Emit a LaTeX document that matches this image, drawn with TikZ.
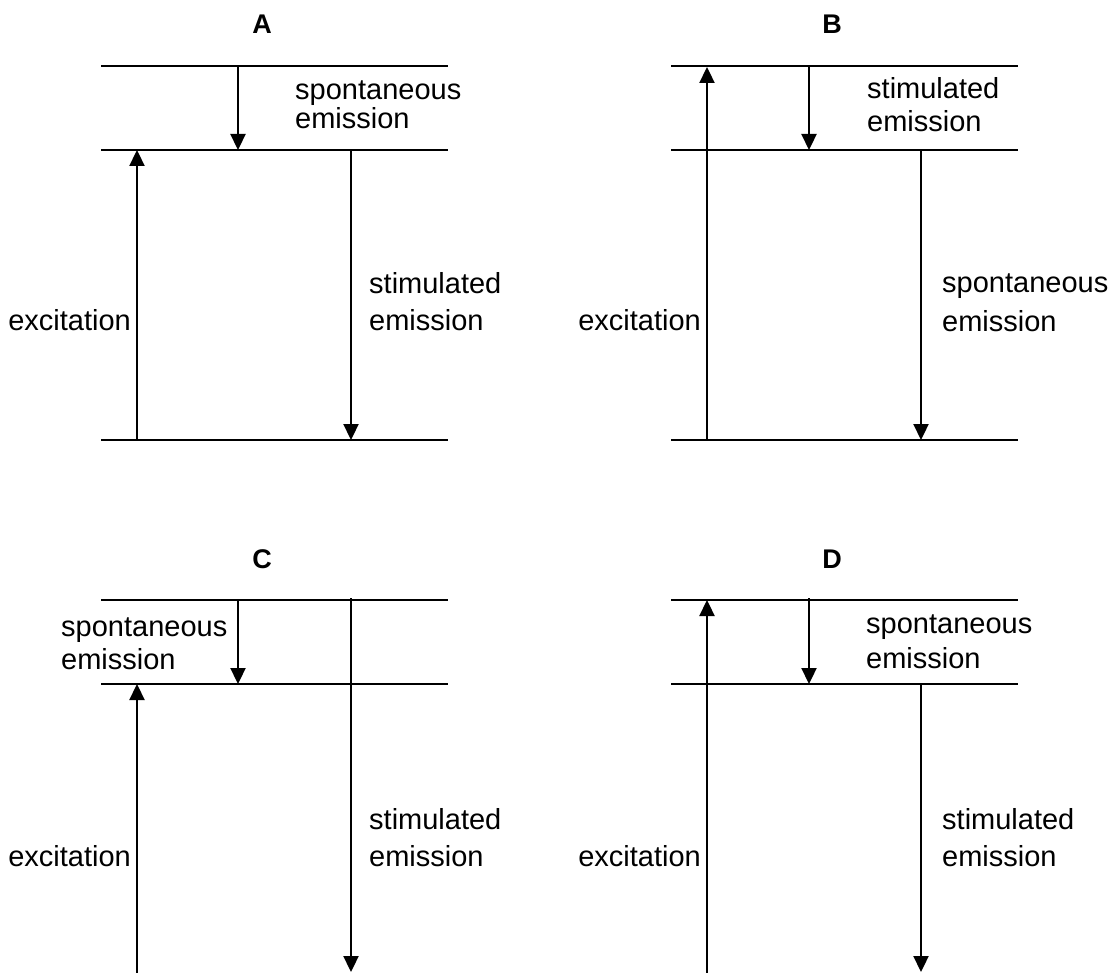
\documentclass[tikz,border=0pt]{standalone}
\usepackage{fontspec}
\setmainfont{Liberation Sans}
\usetikzlibrary{arrows.meta}
\begin{document}
\begin{tikzpicture}[x=1pt,y=-1pt,
  level/.style={line width=2.1pt},
  trans/.style={line width=2.3pt,-{Triangle[width=15pt,length=16pt]}},
  lblw/.style={inner sep=0pt,anchor=base west,font=\fontsize{29}{29}\selectfont},
  lble/.style={inner sep=0pt,anchor=base east,font=\fontsize{29}{29}\selectfont},
  ttl/.style={inner sep=0pt,anchor=base,font=\fontsize{27}{27}\selectfont\bfseries}]
\useasboundingbox (0,0) rectangle (1116,973);

% ---------------- Panel A ----------------
\node[ttl] (tA) at (262,34) {A};
\coordinate (A1l) at (101,66);  \coordinate (A1r) at (448,66);
\coordinate (A2l) at (101,150); \coordinate (A2r) at (448,150);
\coordinate (A3l) at (101,440); \coordinate (A3r) at (448,440);
\draw[level] (A1l) -- (A1r);
\draw[level] (A2l) -- (A2r);
\draw[level] (A3l) -- (A3r);
\coordinate (Aex0) at (137,440); \coordinate (Aex1) at (137,150);
\coordinate (Asp0) at (238,66);  \coordinate (Asp1) at (238,150);
\coordinate (Ast0) at (351,150); \coordinate (Ast1) at (351,440);
\draw[trans] (Aex0) -- (Aex1);
\draw[trans] (Asp0) -- (Asp1);
\draw[trans] (Ast0) -- (Ast1);
\node[lblw] (Asp1t) at (295,100) {spontaneous};
\node[lblw] (Asp2t) at (295,129) {emission};
\node[lblw] (Ast1t) at (369,294) {stimulated};
\node[lblw] (Ast2t) at (369,331) {emission};
\node[lble] (Aext) at (131,331) {excitation};

% ---------------- Panel B ----------------
\node[ttl] (tB) at (832,34) {B};
\coordinate (B1l) at (671,66);  \coordinate (B1r) at (1018,66);
\coordinate (B2l) at (671,150); \coordinate (B2r) at (1018,150);
\coordinate (B3l) at (671,440); \coordinate (B3r) at (1018,440);
\draw[level] (B1l) -- (B1r);
\draw[level] (B2l) -- (B2r);
\draw[level] (B3l) -- (B3r);
\coordinate (Bex0) at (707,440); \coordinate (Bex1) at (707,67);
\coordinate (Bst0) at (809,66);  \coordinate (Bst1) at (809,150);
\coordinate (Bsp0) at (921,150); \coordinate (Bsp1) at (921,440);
\draw[trans] (Bex0) -- (Bex1);
\draw[trans] (Bst0) -- (Bst1);
\draw[trans] (Bsp0) -- (Bsp1);
\node[lblw] (Bst1t) at (867,99) {stimulated};
\node[lblw] (Bst2t) at (867,132) {emission};
\node[lblw] (Bsp1t) at (942,293) {spontaneous};
\node[lblw] (Bsp2t) at (942,332) {emission};
\node[lble] (Bext) at (701,331) {excitation};

% ---------------- Panel C ----------------
\node[ttl] (tC) at (262,568) {C};
\coordinate (C1l) at (101,600); \coordinate (C1r) at (448,600);
\coordinate (C2l) at (101,684); \coordinate (C2r) at (448,684);
\draw[level] (C1l) -- (C1r);
\draw[level] (C2l) -- (C2r);
\coordinate (Cex0) at (137,976); \coordinate (Cex1) at (137,684);
\coordinate (Csp0) at (238,600); \coordinate (Csp1) at (238,684);
\coordinate (Cst0) at (351,598); \coordinate (Cst1) at (351,972);
\draw[trans] (Cex0) -- (Cex1);
\draw[trans] (Csp0) -- (Csp1);
\draw[trans] (Cst0) -- (Cst1);
\node[lblw] (Csp1t) at (61,636) {spontaneous};
\node[lblw] (Csp2t) at (61,669) {emission};
\node[lblw] (Cst1t) at (369,829) {stimulated};
\node[lblw] (Cst2t) at (369,866) {emission};
\node[lble] (Cext) at (131,866) {excitation};

% ---------------- Panel D ----------------
\node[ttl] (tD) at (832,568) {D};
\coordinate (D1l) at (671,600); \coordinate (D1r) at (1018,600);
\coordinate (D2l) at (671,684); \coordinate (D2r) at (1018,684);
\draw[level] (D1l) -- (D1r);
\draw[level] (D2l) -- (D2r);
\coordinate (Dex0) at (707,976); \coordinate (Dex1) at (707,600);
\coordinate (Dsp0) at (809,598); \coordinate (Dsp1) at (809,684);
\coordinate (Dst0) at (921,684); \coordinate (Dst1) at (921,972);
\draw[trans] (Dex0) -- (Dex1);
\draw[trans] (Dsp0) -- (Dsp1);
\draw[trans] (Dst0) -- (Dst1);
\node[lblw] (Dsp1t) at (866,633) {spontaneous};
\node[lblw] (Dsp2t) at (866,668) {emission};
\node[lblw] (Dst1t) at (942,829) {stimulated};
\node[lblw] (Dst2t) at (942,866) {emission};
\node[lble] (Dext) at (701,866) {excitation};
\end{tikzpicture}
\end{document}
